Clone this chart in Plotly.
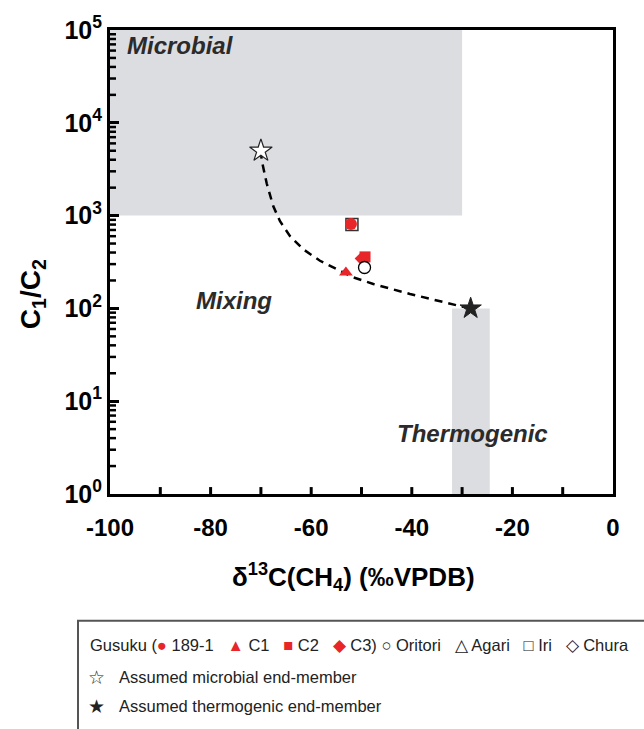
import plotly.graph_objects as go

# ---- data ----
gusuku_names = ["189-1", "C1", "C2", "C3"]
gusuku_x = [-52.1, -53.1, -49.3, -50.2]
gusuku_y = [810, 243, 359, 344]
gusuku_symbols = ["circle", "triangle-up", "square", "diamond"]

oritori_x = [-49.4]
oritori_y = [276]
iri_x = [-51.9]
iri_y = [800]

micro_end_x = [-70.0]
micro_end_y = [5000]
thermo_end_x = [-28.3]
thermo_end_y = [100]

curve_x = [-70.0, -69.84, -68.85, -67.53, -66.2, -64.21, -61.57, -58.25, -54.93,
           -51.63, -47.65, -43.0, -40.36, -29.8, -28.3]
curve_y = [5000, 3945, 2228, 1257, 869, 601, 433, 326, 265,
           216, 183, 156, 143, 104, 100]

microbial_box = dict(x0=-100, x1=-30, y0=1000, y1=100000)
thermo_box = dict(x0=-32, x1=-24.5, y0=1, y1=100)

x_ticks = [-100, -80, -60, -40, -20, 0]
x_all_ticks = [-90, -80, -70, -60, -50, -40, -30, -20, -10]
y_ticks = [1, 10, 100, 1000, 10000, 100000]
y_ticktext = ["10<sup>0</sup>", "10<sup>1</sup>", "10<sup>2</sup>", "10<sup>3</sup>",
              "10<sup>4</sup>", "10<sup>5</sup>"]
y_minor_ticks = [m * d for d in (1, 10, 100, 1000, 10000) for m in (2, 3, 4, 5, 6, 7, 8, 9)]

RED = "#e8262a"
SHADE = "#dcdde0"
FONT = "Liberation Sans, Arial, sans-serif"

fig = go.Figure()

# shaded regions
for b in (microbial_box, thermo_box):
    fig.add_shape(type="rect", xref="x", yref="y", x0=b["x0"], x1=b["x1"],
                  y0=b["y0"], y1=b["y1"], fillcolor=SHADE, line=dict(width=0),
                  layer="below")

# inside tick marks positioned through the axes' scales
for v in x_all_ticks:
    fig.add_shape(type="line", xref="x", yref="y domain", x0=v, x1=v, y0=0, y1=7 / 469,
                  line=dict(color="black", width=3))
for v in y_minor_ticks:
    fig.add_shape(type="line", xref="x domain", yref="y", x0=0, x1=6 / 503, y0=v, y1=v,
                  line=dict(color="black", width=2.5))

# mixing curve
fig.add_trace(go.Scatter(x=curve_x, y=curve_y, mode="lines",
                         line=dict(color="black", width=2.5, dash="8px,6px"),
                         hoverinfo="skip", showlegend=False))

# Iri (open square) under 189-1
fig.add_trace(go.Scatter(x=iri_x, y=iri_y, mode="markers", showlegend=False,
                         marker=dict(symbol="square", size=12, color="rgba(0,0,0,0)",
                                     line=dict(color="#333", width=1.5))))
# Gusuku
for n, x, y, s in zip(gusuku_names, gusuku_x, gusuku_y, gusuku_symbols):
    sz = {"circle": 12, "triangle-up": 12, "square": 11, "diamond": 9}[s]
    fig.add_trace(go.Scatter(x=[x], y=[y], mode="markers", name=n, showlegend=False,
                             marker=dict(symbol=s, size=sz, color=RED,
                                         line=dict(width=0))))
# Oritori
fig.add_trace(go.Scatter(x=oritori_x, y=oritori_y, mode="markers", showlegend=False,
                         marker=dict(symbol="circle", size=12, color="white",
                                     line=dict(color="black", width=1.3))))
# end members
fig.add_trace(go.Scatter(x=micro_end_x, y=micro_end_y, mode="markers", showlegend=False,
                         marker=dict(symbol="star", size=17, color="white",
                                     line=dict(color="#222", width=1.2))))
fig.add_trace(go.Scatter(x=thermo_end_x, y=thermo_end_y, mode="markers", showlegend=False,
                         marker=dict(symbol="star", size=16, color="#222",
                                     line=dict(color="#222", width=1))))

# region labels
lab_font = dict(family=FONT, size=24, color="#2b2b2b")
fig.add_annotation(x=-97, y=4.83, xref="x", yref="y", text="<b><i>Microbial</i></b>",
                   showarrow=False, xanchor="left", yanchor="middle", font=lab_font)
fig.add_annotation(x=-75.3, y=2.08, xref="x", yref="y", text="<b><i>Mixing</i></b>",
                   showarrow=False, xanchor="center", yanchor="middle", font=lab_font)
fig.add_annotation(x=-28.0, y=0.65, xref="x", yref="y", text="<b><i>Thermogenic</i></b>",
                   showarrow=False, xanchor="center", yanchor="middle", font=lab_font)


def px(xp):
    return (xp - 110) / 503


def py(yp):
    return (494 - yp) / 469


# axis titles
fig.add_annotation(x=px(32), y=py(292), xref="paper", yref="paper",
                   text="<b>C<sub>1</sub>/C<sub>2</sub></b>", textangle=-90,
                   xanchor="center", yanchor="middle",
                   showarrow=False, font=dict(family=FONT, size=28, color="black"))
fig.add_annotation(x=px(353), y=py(578), xref="paper", yref="paper",
                   text="<b>δ<sup>13</sup>C(CH<sub>4</sub>) (‰VPDB)</b>",
                   xanchor="center", yanchor="middle",
                   showarrow=False, font=dict(family=FONT, size=26, color="black"))

# legend box
fig.add_shape(type="rect", xref="paper", yref="paper", x0=px(78), x1=px(670),
              y0=py(622), y1=py(760), line=dict(color="#555", width=2),
              fillcolor="rgba(0,0,0,0)")
leg_font = dict(family=FONT, size=16.5, color="#222")
row1 = ("Gusuku (<span style='color:%s'>●</span> 189-1   <span style='color:%s'>▲</span> C1   "
        "<span style='color:%s'>■</span> C2   <span style='color:%s'>◆</span> C3) ○ Oritori   "
        "△ Agari   □ Iri   ◇ Chura") % (RED, RED, RED, RED)
fig.add_annotation(x=px(88), y=py(647), xref="paper", yref="paper", text=row1,
                   showarrow=False, xanchor="left", yanchor="middle", font=leg_font)
fig.add_annotation(x=px(96), y=py(679), xref="paper", yref="paper", text="☆",
                   showarrow=False, xanchor="center", yanchor="middle",
                   font=dict(family="DejaVu Sans", size=19, color="#222"))
fig.add_annotation(x=px(117), y=py(679), xref="paper", yref="paper",
                   text="Assumed microbial end-member",
                   showarrow=False, xanchor="left", yanchor="middle", font=leg_font)
fig.add_annotation(x=px(96), y=py(708), xref="paper", yref="paper", text="★",
                   showarrow=False, xanchor="center", yanchor="middle",
                   font=dict(family="DejaVu Sans", size=19, color="#222"))
fig.add_annotation(x=px(117), y=py(708), xref="paper", yref="paper",
                   text="Assumed thermogenic end-member",
                   showarrow=False, xanchor="left", yanchor="middle", font=leg_font)

x_tick_font = dict(family=FONT, size=24, color="black")
y_tick_font = dict(family=FONT, size=25, color="black")

fig.update_layout(
    width=644, height=729, margin=dict(l=110, r=31, t=25, b=235),
    plot_bgcolor="white", paper_bgcolor="white", showlegend=False,
    font=dict(family=FONT),
    xaxis=dict(range=[-100, 0], tickmode="array", tickvals=x_ticks,
               ticktext=[f"<b>{v}</b>" for v in x_ticks], ticks="",
               showline=True, linewidth=3, linecolor="black", mirror=True,
               showgrid=False, zeroline=False, tickfont=x_tick_font,
               ticklabelstandoff=10),
    yaxis=dict(type="log", range=[0, 5], tickmode="array", tickvals=y_ticks,
               ticktext=[f"<b>{t}</b>" for t in y_ticktext], ticks="inside",
               ticklen=9, tickwidth=3, tickcolor="black",
               showline=True, linewidth=3, linecolor="black", mirror=True,
               showgrid=False, zeroline=False, tickfont=y_tick_font),
)

fig.write_html("out.html")
